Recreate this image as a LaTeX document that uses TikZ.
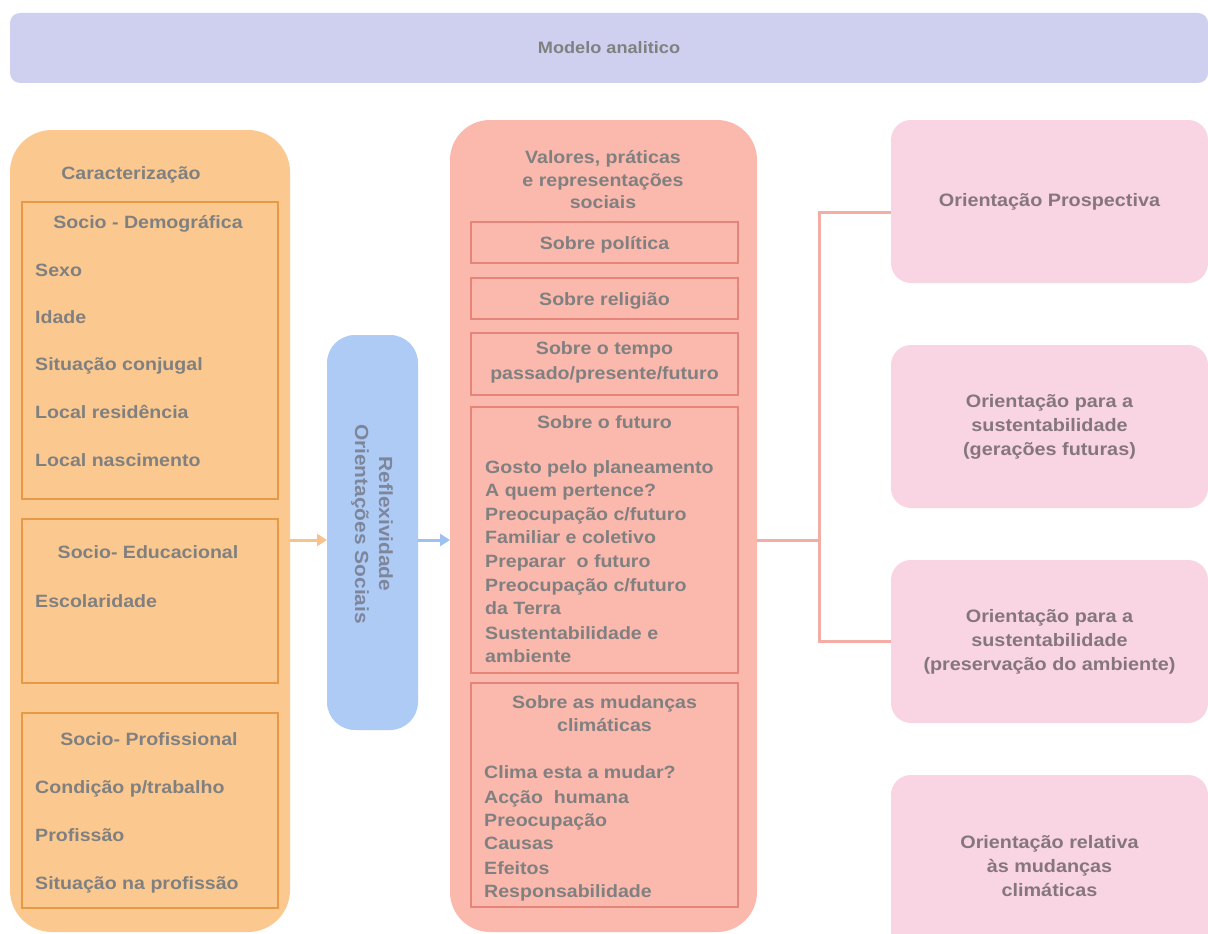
\documentclass[tikz,border=0pt]{standalone}
\usepackage{fontspec}
\usetikzlibrary{arrows.meta}
\newfontfamily\df{Liberation Sans}[FakeStretch=1.1]
\definecolor{bannerfill}{HTML}{CFCFF0}
\definecolor{orangefill}{HTML}{FBC990}
\definecolor{orangeline}{HTML}{E69A45}
\definecolor{bluefill}{HTML}{AECBF5}
\definecolor{salmonfill}{HTML}{FBB8AD}
\definecolor{salmonline}{HTML}{E58479}
\definecolor{pinkfill}{HTML}{F9D4E3}
\definecolor{connc}{HTML}{F3ADA4}
\definecolor{txtc}{HTML}{808080}
\definecolor{txtr}{HTML}{85767E}
\definecolor{txtb}{HTML}{7D869A}
\definecolor{arrorange}{HTML}{F9C28C}
\definecolor{arrblue}{HTML}{9EC2F0}
\tikzset{
  box/.style={rectangle, inner sep=0pt, outer sep=0pt},
  t/.style={font=\df\bfseries\fontsize{17.8}{23}\selectfont, text=txtc, inner sep=0pt,
            text height=12.7pt, text depth=3.6pt},
  tm/.style={font=\df\bfseries\fontsize{17.8}{23}\selectfont, text=txtc, inner sep=0pt, align=center},
  tr/.style={font=\df\bfseries\fontsize{18}{24}\selectfont, text=txtr, align=center},
  sub/.style={box, draw=orangeline, line width=1.1pt},
  subs/.style={box, draw=salmonline, line width=1.1pt},
  rbox/.style={box, fill=pinkfill, rounded corners=20pt, minimum width=317pt, tr},
  conline/.style={draw=connc, line width=3pt},
  arr/.style={line width=3pt, -{Triangle[length=10pt,width=12pt]}}
}
\begin{document}
\begin{tikzpicture}[x=1pt,y=-1pt]
\useasboundingbox (0,0) rectangle (1208,934);
\fill[white] (0,0) rectangle (1208,934);
% banner
\node[box, fill=bannerfill, rounded corners=10pt, minimum width=1198pt, minimum height=70pt,
      font=\df\bfseries\fontsize{16.5}{20}\selectfont, text=txtc] (banner) at (609,48) {Modelo analitico};
% left column
\node[box, fill=orangefill, rounded corners=42pt, minimum width=280pt, minimum height=802pt] (char) at (150,531) {};
\node[t] (chart) at (131,175) {Caracterização};
\node[sub, minimum width=256pt, minimum height=297pt] (sd) at (150,350.5) {};
\node[sub, minimum width=256pt, minimum height=164pt] (se) at (150,601) {};
\node[sub, minimum width=256pt, minimum height=195pt] (sp) at (150,810.5) {};
\node[t] (sdt) at (148,224) {Socio - Demográfica};
\node[t, anchor=west] (sd1) at (35,272) {Sexo};
\node[t, anchor=west] (sd2) at (35,319) {Idade};
\node[t, anchor=west] (sd3) at (35,366) {Situação conjugal};
\node[t, anchor=west] (sd4) at (35,414) {Local residência};
\node[t, anchor=west] (sd5) at (35,462) {Local nascimento};
\node[t] (set) at (148,554) {Socio- Educacional};
\node[t, anchor=west] (se1) at (35,603) {Escolaridade};
\node[t] (spt) at (149,741) {Socio- Profissional};
\node[t, anchor=west] (sp1) at (35,789) {Condição p/trabalho};
\node[t, anchor=west] (sp2) at (35,837) {Profissão};
\node[t, anchor=west] (sp3) at (35,885) {Situação na profissão};
% blue
\node[box, fill=bluefill, rounded corners=28pt, minimum width=91pt, minimum height=395pt] (blue) at (372.5,532.5) {};
\node[font=\df\bfseries\fontsize{19}{24}\selectfont, text=txtb, align=center, rotate=-90, inner sep=0pt] (bluet) at (372,524)
  {Reflexividade\\Orientações Sociais};
% salmon
\node[box, fill=salmonfill, rounded corners=40pt, minimum width=307pt, minimum height=812pt] (sal) at (603.5,526) {};
\node[tm, font=\df\bfseries\fontsize{17.8}{22.5}\selectfont] (salt) at (603,180) {Valores, práticas\\e representações\\sociais};
\node[subs, minimum width=267pt, minimum height=41pt] (pol) at (604.5,242.5) {};
\node[subs, minimum width=267pt, minimum height=41pt] (rel) at (604.5,298.5) {};
\node[subs, minimum width=267pt, minimum height=62pt] (tem) at (604.5,364) {};
\node[subs, minimum width=267pt, minimum height=266pt] (fut) at (604.5,540) {};
\node[subs, minimum width=267pt, minimum height=224pt] (cli) at (604.5,795) {};
\node[t] (polt) at (604.5,245) {Sobre política};
\node[t] (relt) at (604.5,301) {Sobre religião};
\node[tm, font=\df\bfseries\fontsize{17.8}{25}\selectfont] (temt) at (604.5,362) {Sobre o tempo\\passado/presente/futuro};
\node[t] (futt) at (604.5,424) {Sobre o futuro};
\node[t, anchor=west] (f1) at (485,469) {Gosto pelo planeamento};
\node[t, anchor=west] (f2) at (485,492) {A quem pertence?};
\node[t, anchor=west] (f3) at (485,516) {Preocupação c/futuro};
\node[t, anchor=west] (f4) at (485,539) {Familiar e coletivo};
\node[t, anchor=west] (f5) at (485,563) {Preparar~ o futuro};
\node[t, anchor=west] (f6) at (485,587) {Preocupação c/futuro};
\node[t, anchor=west] (f7) at (485,610) {da Terra};
\node[t, anchor=west] (f8) at (485,635) {Sustentabilidade e};
\node[t, anchor=west] (f9) at (485,658) {ambiente};
\node[tm, font=\df\bfseries\fontsize{17.8}{23}\selectfont] (clit) at (604.5,714) {Sobre as mudanças\\climáticas};
\node[t, anchor=west] (c1) at (484,774) {Clima esta a mudar?};
\node[t, anchor=west] (c2) at (484,799) {Acção~ humana};
\node[t, anchor=west] (c3) at (484,822) {Preocupação};
\node[t, anchor=west] (c4) at (484,845) {Causas};
\node[t, anchor=west] (c5) at (484,870) {Efeitos};
\node[t, anchor=west] (c6) at (484,893) {Responsabilidade};
% right boxes
\node[rbox, minimum height=163pt] (r1) at (1049.5,201.5) {Orientação Prospectiva};
\node[rbox, minimum height=163pt] (r2) at (1049.5,426.5) {Orientação para a\\sustentabilidade\\(gerações futuras)};
\node[rbox, minimum height=163pt] (r3) at (1049.5,641.5) {Orientação para a\\sustentabilidade\\(preservação do ambiente)};
\node[rbox, minimum height=182pt] (r4) at (1049.5,866) {Orientação relativa\\às mudanças\\climáticas};
% connectors
\coordinate (jn) at (819,540);
\coordinate (t1) at (819,212);
\coordinate (t3) at (819,641);
\draw[conline] (jn -| sal.east) -- (jn);
\draw[conline] (t1 -| r1.west) -- (t1) -- (t3) -- (t3 -| r3.west);
\draw[arr, draw=arrorange, fill=arrorange] (jn -| char.east) -- (jn -| blue.west);
\draw[arr, draw=arrblue, fill=arrblue] (jn -| blue.east) -- (jn -| sal.west);
\end{tikzpicture}
\end{document}
